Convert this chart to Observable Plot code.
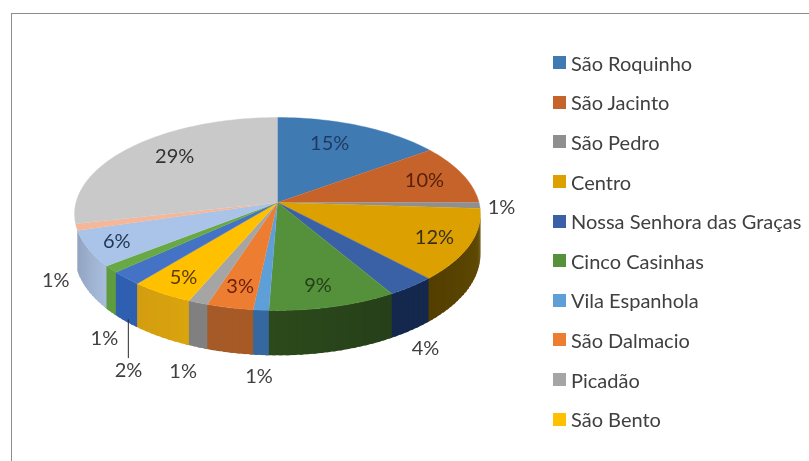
<!DOCTYPE html>
<html><head><meta charset="utf-8">
<script src="https://cdn.jsdelivr.net/npm/d3@7"></script>
<script src="https://cdn.jsdelivr.net/npm/@observablehq/plot@0.6"></script>
<style>
html,body{margin:0;padding:0;background:#fff;width:809px;height:461px;overflow:hidden}
#wrap{position:relative;width:809px;height:461px;font-family:Lato,sans-serif;filter:blur(0.4px)}
#legend{position:absolute;left:553px;top:43px;color:#404040;font-size:20px}
.row{display:flex;align-items:center;height:39.6px;white-space:nowrap}
.sw{width:13px;height:13px;margin-right:5px;flex:none}
</style></head><body><div id="wrap"></div>
<script>
// Legend names: the original legend only shows the first ten categories
const categories = ["São Roquinho","São Jacinto","São Pedro","Centro","Nossa Senhora das Graças","Cinco Casinhas","Vila Espanhola","São Dalmacio","Picadão","São Bento"];
const values = [15,10,1,12,3.5,9.1,1.1,3.3,1.4,4.5,2.3,1.2,6,1.1,28.5];
const topColors = ["#3f7ab3","#c6632a","#8f8f8f","#dca000","#3a60a6","#55903a","#5f9fd8","#ed7d31","#a5a5a5","#ffc000","#4472c4","#68a845","#a9c4e8","#f4b79a","#c9c9c9"];
const wallFrom = ["#2a5278","#84421c","#5f5f5f","#634c04","#14284d","#26401a","#35689f","#a85a24","#808080","#d9a40c","#2f5fb0","#5f9c3e","#a8bddc","#c9a08a","#a8a8a8"];
const wallTo   = ["#2a5278","#84421c","#5f5f5f","#533e00","#14284d","#2c4a1b","#35689f","#a55a28","#808080","#d39d10","#2f5fb0","#5f9c3e","#8fa2bf","#c9a08a","#a8a8a8"];
// Label placement around the pie: angle (percent of the turn), reach (fraction of the radius)
const labelAngle = [6.3,20.1,25.75,32,42.9,46.4,50.8,53.3,54.1,58.5,56.3,58.6,67.4,64.8,87.1];
const labelReach = [.725,.787,1.106,.825,1.439,.811,1.505,.816,1.517,.838,1.584,1.427,.856,1.251,.747];
const labelColors = ["#1f3a5f","#5a200a","#404040","#3a3018","#404040","#24401a","#404040","#6b1f0a","#404040","#5a3a10","#404040","#404040","#1f3553","#404040","#333333"];
const perspective = 0.119, wallHeight = 0.416, stripStep = 0.5, stripOverlap = 0.25;

const total = d3.sum(values);
const edges = d3.cumsum(values);
const project = (pct, r = 1, h = 0) => {
  const t = pct / total * 2 * Math.PI, u = r * Math.sin(t), v = r * Math.cos(t), k = 1 + perspective * v;
  return {x: u / k, y: (v - h) / k};
};
const slices = values.map((d, i) => ({i, from: edges[i] - d, to: edges[i]}));

// top face polygons
const topFace = slices.flatMap(s => {
  const n = Math.max(4, Math.ceil((s.to - s.from) / stripStep));
  return [{...project(0, 0), id: s.i, color: topColors[s.i]},
    ...d3.range(n + 1).map(j => ({...project(s.from + (s.to - s.from) * j / n), id: s.i, color: topColors[s.i]}))];
});
// wall strips (only the front part is visible); each one overlaps the next so no seams show
const visFrom = 26.9, visTo = 70.5;
const walls = slices.flatMap(s => {
  const a = Math.max(s.from, visFrom), b = Math.min(s.to, visTo);
  if (b <= a) return [];
  const n = Math.max(1, Math.ceil((b - a) / stripStep));
  const mix = d3.interpolateRgb(wallFrom[s.i], wallTo[s.i]);
  return d3.range(n).flatMap(j => {
    const p0 = a + (b - a) * j / n, p1 = Math.min(visTo, a + (b - a) * (j + 1) / n + stripOverlap), id = `${s.i}-${j}`, color = d3.rgb(mix((j + .5) / n)).formatHex();
    return [project(p0), project(p1), project(p1, 1, wallHeight), project(p0, 1, wallHeight)].map(q => ({...q, id, color}));
  });
});
const labels = slices.map(s => ({...project(labelAngle[s.i], labelReach[s.i]), text: Math.round(values[s.i]) + "%", color: labelColors[s.i]}));

// leader line of the 2% label, from the wall of its slice down to the label
const leaderFoot = project(61.8, 1, wallHeight * 0.93);
const leader = [leaderFoot, {x: leaderFoot.x, y: labels[10].y + 0.137}];

const W = 809, H = 461, ml = 11, mt = 13, cx = 277, cy = 202, sx = 201.5, sy = 95.1;
const chart = Plot.plot({
  width: W, height: H, marginLeft: ml, marginTop: mt, marginRight: 0, marginBottom: 0,
  x: {domain: [(ml - cx) / sx, (W - cx) / sx], axis: null},
  y: {domain: [(cy - H) / sy, (cy - mt) / sy], axis: null},
  color: {type: "identity"},
  style: {background: "#fff", fontFamily: "Lato,sans-serif", display: "block"},
  marks: [
    Plot.frame({anchor: "left", stroke: "#8c8c8c"}),
    Plot.frame({anchor: "top", stroke: "#8c8c8c"}),
    Plot.line(walls, {x: "x", y: "y", z: "id", fill: "color", stroke: null, curve: "linear"}),
    Plot.line(topFace, {x: "x", y: "y", z: "id", fill: "color", stroke: "color", strokeWidth: 0.4, curve: "linear"}),
    Plot.line(leader, {x: "x", y: "y", stroke: "#2a2a2a", strokeWidth: 1}),
    Plot.text(labels, {x: "x", y: "y", text: "text", fill: "color", fontSize: 20, lineAnchor: "middle"})
  ]
});
const wrap = document.getElementById("wrap");
wrap.appendChild(chart);
const legend = document.createElement("div");
legend.id = "legend";
categories.forEach((name, i) => {
  const row = document.createElement("div"); row.className = "row";
  const sw = document.createElement("span"); sw.className = "sw"; sw.style.background = topColors[i];
  const t = document.createElement("span"); t.textContent = name;
  row.append(sw, t); legend.appendChild(row);
});
wrap.appendChild(legend);
</script></body></html>
